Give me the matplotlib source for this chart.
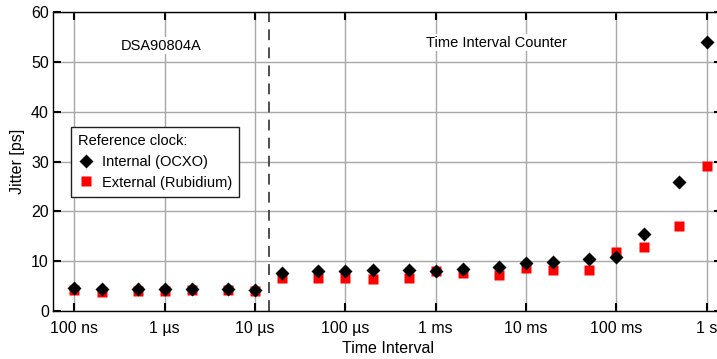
import numpy as np
import matplotlib
matplotlib.use("Agg")
import matplotlib.pyplot as plt

plt.rcParams['font.family'] = ['Liberation Sans', 'DejaVu Sans']

# Data
interval = [100e-9, 200e-9, 500e-9, 1e-6, 2e-6, 5e-6, 10e-6,
            20e-6, 50e-6, 100e-6, 200e-6, 500e-6, 1e-3, 2e-3, 5e-3,
            10e-3, 20e-3, 50e-3, 100e-3, 200e-3, 500e-3, 1.0]
internal = [4.55, 4.4, 4.5, 4.4, 4.5, 4.4, 4.3,
            7.7, 8.1, 8.1, 8.15, 8.2, 8.0, 8.5, 8.9,
            9.7, 9.85, 10.4, 10.9, 15.4, 25.9, 53.9]
external = [4.3, 3.75, 4.05, 4.05, 4.2, 4.2, 4.05,
            6.55, 6.55, 6.55, 6.35, 6.7, 8.1, 7.7, 7.2,
            8.55, 8.2, 8.2, 11.9, 12.8, 17.1, 29.0]

tick_pos = [1e-7, 1e-6, 1e-5, 1e-4, 1e-3, 1e-2, 1e-1, 1.0]
tick_lab = ['100 ns', '1 µs', '10 µs', '100 µs', '1 ms', '10 ms', '100 ms', '1 s']
split = 1.44e-5

fig = plt.figure(figsize=(7.17, 3.59), dpi=100)
ax = fig.add_axes([53/717, 1 - 311/359, (722 - 53)/717, (311 - 12)/359])

ext, = ax.plot(interval, external, 's', color='#ff0000', ms=6.5, mec='none', zorder=3,
               label='External (Rubidium)')
inn, = ax.plot(interval, internal, 'D', color='black', ms=7.5, mec='none', zorder=4,
               label='Internal (OCXO)')

ax.axvline(split, color='#404040', linestyle=(0, (6, 4)), linewidth=1.3, zorder=2)

ax.set_xscale('log')
ax.set_xlim(10**-7.238, 10**0.170)
ax.set_ylim(0, 60)
ax.set_xticks(tick_pos)
ax.set_xticklabels(tick_lab)
ax.xaxis.set_minor_locator(matplotlib.ticker.NullLocator())
ax.set_yticks(np.arange(0, 61, 10))
ax.tick_params(direction='in', top=True, right=True, length=5.5, width=1.5,
               labelsize=11.5)
ax.tick_params(axis='x', pad=7)
ax.tick_params(axis='y', pad=3)
ax.grid(True, color='#a8a8a8', linewidth=1)
for s in ax.spines.values():
    s.set_linewidth(1)

ax.set_xlabel('Time Interval', fontsize=11.5, labelpad=4)
ax.set_ylabel('Jitter [ps]', fontsize=11.5, labelpad=4)

ax.text(9.1e-7, 53.2, 'DSA90804A', ha='center', va='center', fontsize=10.5,
        bbox=dict(facecolor='white', edgecolor='none', pad=1))
ax.text(4.7e-3, 53.8, 'Time Interval Counter', ha='center', va='center', fontsize=10.5,
        bbox=dict(facecolor='white', edgecolor='none', pad=1))

leg = ax.legend(handles=[inn, ext], title='Reference clock:', loc='upper left',
                bbox_to_anchor=(0.027, 0.615), fontsize=10.5, title_fontsize=10.5,
                frameon=True, fancybox=False, edgecolor='#202020', framealpha=1,
                handletextpad=0.6, borderpad=0.5, handlelength=1.0, labelspacing=0.45,
                borderaxespad=0)
leg._legend_box.align = 'left'
leg.get_frame().set_linewidth(1)

fig.savefig('out.png', dpi=100)
